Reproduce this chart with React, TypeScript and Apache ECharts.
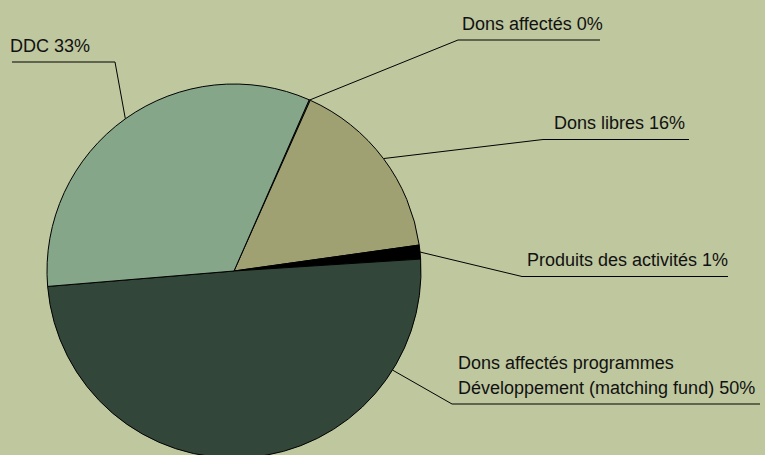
import React, { useEffect, useRef } from "react";
import * as echarts from "echarts";

// Data (clockwise from the top-right)
const categories = [
  "Dons affectés",
  "Dons libres",
  "Produits des activités",
  "Dons affectés programmes\nDéveloppement (matching fund)",
  "DDC",
];
const shares = [0.1, 16.1, 1.2, 49.7, 32.9];
const sliceColors = ["#85A688", "#A0A173", "#000000", "#33463A", "#85A688"];

// Label placement (layout only)
const CX = 234;
const CY = 271;
const R = 187;
const labelPlaces = [
  { textX: 462, lineY: 40, elbowX: 458, endX: 600, anchorDeg: null as number | null, align: "left" },
  { textX: 554, lineY: 139.5, elbowX: 543, endX: 689, anchorDeg: null, align: "left" },
  { textX: 527, lineY: 276.5, elbowX: 522, endX: 728, anchorDeg: null, align: "left" },
  { textX: 458, lineY: 404, elbowX: 452, endX: 760, anchorDeg: 122, align: "left" },
  { textX: 10, lineY: 62, elbowX: 115, endX: 12, anchorDeg: null, align: "left" },
];

export default function App() {
  const ref = useRef<HTMLDivElement>(null);
  useEffect(() => {
    if (!ref.current) return;
    const chart = echarts.init(ref.current, undefined, { renderer: "svg" });
    chart.setOption({
      animation: false,
      backgroundColor: "#BEC79E",
      series: [
        {
          type: "pie",
          center: [CX, CY],
          radius: R,
          startAngle: 66.3,
          clockwise: true,
          avoidLabelOverlap: false,
          minAngle: 0,
          data: categories.map((name, i) => ({
            name,
            value: shares[i],
            itemStyle: { color: sliceColors[i] },
          })),
          itemStyle: { borderColor: "#000", borderWidth: 1 },
          label: {
            show: true,
            color: "#111",
            fontFamily: "'Liberation Sans', Arial, sans-serif",
            fontSize: 18,
            lineHeight: 25,
            formatter: (p: any) => `${p.name} ${Math.round(p.percent)}%`,
          },
          labelLine: {
            show: true,
            length: 20,
            length2: 20,
            lineStyle: { color: "#000", width: 1 },
          },
          labelLayout: (params: any) => {
            const place = labelPlaces[params.dataIndex];
            let start = params.labelLinePoints ? params.labelLinePoints[0] : [CX, CY];
            if (place.anchorDeg !== null) {
              const a = (place.anchorDeg * Math.PI) / 180;
              start = [CX + R * Math.sin(a), CY - R * Math.cos(a)];
            }
            return {
              x: place.textX,
              y: place.lineY - 4,
              align: place.align,
              verticalAlign: "bottom",
              labelLinePoints: [
                start,
                [place.elbowX, place.lineY],
                [place.endX, place.lineY],
              ],
            };
          },
          emphasis: { disabled: true },
        },
      ],
    });
    return () => chart.dispose();
  }, []);
  return (
    <div
      ref={ref}
      style={{ position: "fixed", left: 0, top: 0, width: 765, height: 455 }}
    />
  );
}
